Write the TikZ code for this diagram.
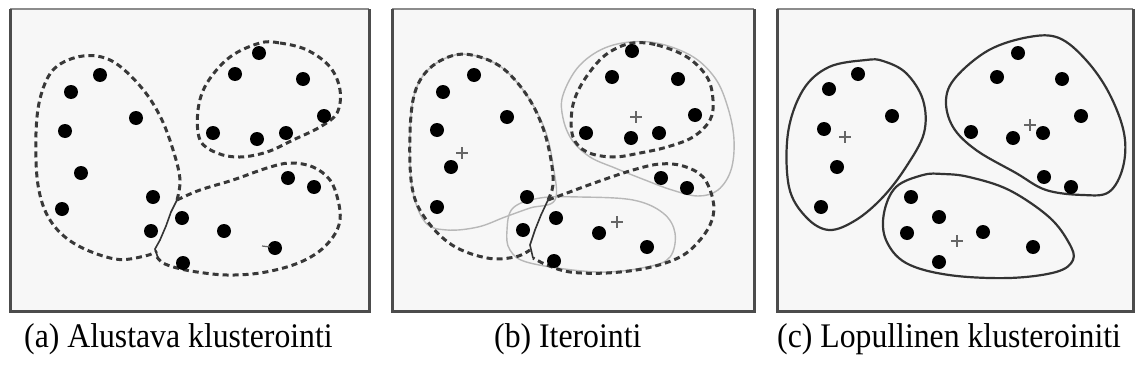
\documentclass[tikz,border=0pt]{standalone}
\usepackage{fontspec}
\setmainfont[FakeStretch=0.92]{Liberation Serif}
\begin{document}
\begin{tikzpicture}[x=1pt,y=-1pt,
  panelbg/.style={fill=black!3},
  frametop/.style={draw=black!45, line width=1.5pt},
  frameside/.style={draw=black!70, line width=3pt},
  clusterdot/.style={fill=black},
  dashc/.style={draw=black!78, line width=3pt, dash pattern=on 6pt off 4pt},
  solidc/.style={draw=black!80, line width=2.2pt},
  joinc/.style={draw=black!80, line width=1.6pt},
  grayc/.style={draw=black!28, line width=1.4pt},
  plusc/.style={draw=black!60, line width=1.2pt},
  captxt/.style={font=\rmfamily\fontsize{34.5}{38}\selectfont, anchor=base west, inner sep=0pt}]
\useasboundingbox (0,0) rectangle (1136,383);
\newcommand\plusmark[2]{\draw[plusc] (#1-6,#2) -- (#1+6,#2) (#1,#2-6) -- (#1,#2+6);}
\newcommand\panelframe[2]{%
  \fill[panelbg] (#1,9) rectangle (#2,311);
  \draw[frametop] (#1,9) -- (#2,9);
  \draw[frameside] (#1,9) -- (#1,311) -- (#2,311) -- (#2,9);}
\panelframe{10}{369}
\panelframe{392}{754}
\panelframe{777}{1133}

% ---------- (a) ----------
\draw[dashc] plot[smooth, tension=0.6] coordinates {(177,200) (180,180) (174,153) (161,118) (141,87) (112,61) (83,56) (55,68) (41,95) (36,133) (38,185) (50,220) (75,244) (115,259) (145,256) (157,251)};
\draw[dashc] plot[smooth, tension=0.6] coordinates {(177,200) (200,190) (233,180) (267,168) (290,163) (313,167) (330,180) (338,200) (340,220) (333,237) (317,253) (293,265) (260,273) (227,275) (197,272) (177,268) (163,263) (157,257)};
\draw[dashc] plot[smooth cycle, tension=0.6] coordinates {(260,43) (280,43) (307,50) (330,67) (340,90) (337,113) (320,127) (293,140) (267,152) (240,157) (217,153) (200,140) (198,110) (207,83) (230,57)};
\draw[joinc] (177,200) -- (171,212) -- (166,226) -- (160,240) -- (155,249) -- (158,258);
\foreach \p in {(100,75),(71,92),(65,131),(136,118),(81,173),(62,209),(153,197),(151,231),(182,218),(183,263),(224,231),(275,248),(288,178),(314,187),(259,53),(235,74),(303,79),(324,116),(213,133),(257,139),(286,133)}
  \fill[clusterdot] \p circle (7pt);
\draw[plusc] (262,246) -- (270,247);

% ---------- (b) ----------
\draw[grayc] plot[smooth cycle, tension=0.6] coordinates {(555,200) (530,208) (505,217) (478,227) (447,230) (425,222) (412,187) (410,133) (415,92) (430,68) (455,55) (480,57) (505,70) (528,97) (545,130) (553,165)};
\draw[grayc] plot[smooth cycle, tension=0.6] coordinates {(563,95) (580,65) (610,46) (650,42) (690,55) (715,78) (728,108) (734,140) (731,170) (718,190) (698,196) (672,190) (645,180) (615,168) (590,157) (572,140) (563,118)};
\draw[grayc] plot[smooth cycle, tension=0.6] coordinates {(507,230) (513,208) (540,198) (580,197) (633,200) (663,213) (675,233) (670,257) (647,267) (597,272) (530,263) (510,250)};
\draw[dashc] plot[smooth, tension=0.6] coordinates {(548,200) (553,185) (551,160) (543,128) (528,97) (505,70) (480,57) (455,55) (430,68) (415,92) (410,133) (412,187) (425,218) (452,245) (487,258) (515,257) (530,250)};
\draw[dashc] plot[smooth, tension=0.6] coordinates {(548,200) (567,193) (597,182) (633,170) (660,164) (683,166) (703,177) (713,200) (712,220) (700,240) (680,257) (647,268) (607,273) (570,272) (547,265) (533,258)};
\draw[dashc] plot[smooth cycle, tension=0.6] coordinates {(633,43) (657,45) (687,57) (707,77) (713,100) (710,120) (693,137) (667,147) (640,153) (613,157) (587,152) (573,137) (572,110) (580,87) (597,63) (613,50)};
\draw[joinc] (548,200) -- (541,215) -- (535,230) -- (530,245) -- (533,258);
\foreach \p in {(474,75),(443,92),(437,130),(507,117),(451,167),(437,207),(527,197),(523,230),(556,218),(554,261),(599,233),(647,247),(661,178),(687,188),(632,51),(612,77),(678,79),(695,115),(586,133),(631,138),(659,133)}
  \fill[clusterdot] \p circle (7pt);
\plusmark{462}{153}
\plusmark{636}{117}
\plusmark{617}{222}

% ---------- (c) ----------
\draw[solidc] plot[smooth cycle, tension=0.6] coordinates {(866,60) (829,67) (803,90) (788,133) (789,187) (806,217) (829,230) (856,220) (883,197) (906,167) (924,133) (923,100) (906,73) (883,61)};
\draw[solidc] plot[smooth cycle, tension=0.6] coordinates {(1029,37) (989,50) (956,77) (946,100) (953,127) (976,150) (1016,173) (1046,190) (1083,195) (1109,192) (1123,167) (1124,133) (1109,93) (1086,60) (1059,38)};
\draw[solidc] plot[smooth cycle, tension=0.6] coordinates {(923,175) (896,187) (884,213) (886,240) (906,263) (949,275) (1009,278) (1056,272) (1073,260) (1069,243) (1049,217) (1009,190) (969,177) (943,174)};
\foreach \p in {(858,74),(829,89),(824,129),(892,116),(837,167),(821,207),(911,197),(907,233),(939,217),(939,262),(983,232),(1033,247),(1044,177),(1071,187),(1018,53),(997,77),(1062,79),(1081,116),(971,132),(1013,138),(1043,133)}
  \fill[clusterdot] \p circle (7pt);
\plusmark{845}{137}
\plusmark{1030}{125}
\plusmark{957}{241}

% ---------- captions ----------
\node[captxt] (capa) at (24,347) {(a) Alustava klusterointi};
\node[captxt] (capb) at (494,347) {(b) Iterointi};
\node[captxt] (capc) at (777,347) {(c) Lopullinen klusteroiniti};
\end{tikzpicture}
\end{document}
